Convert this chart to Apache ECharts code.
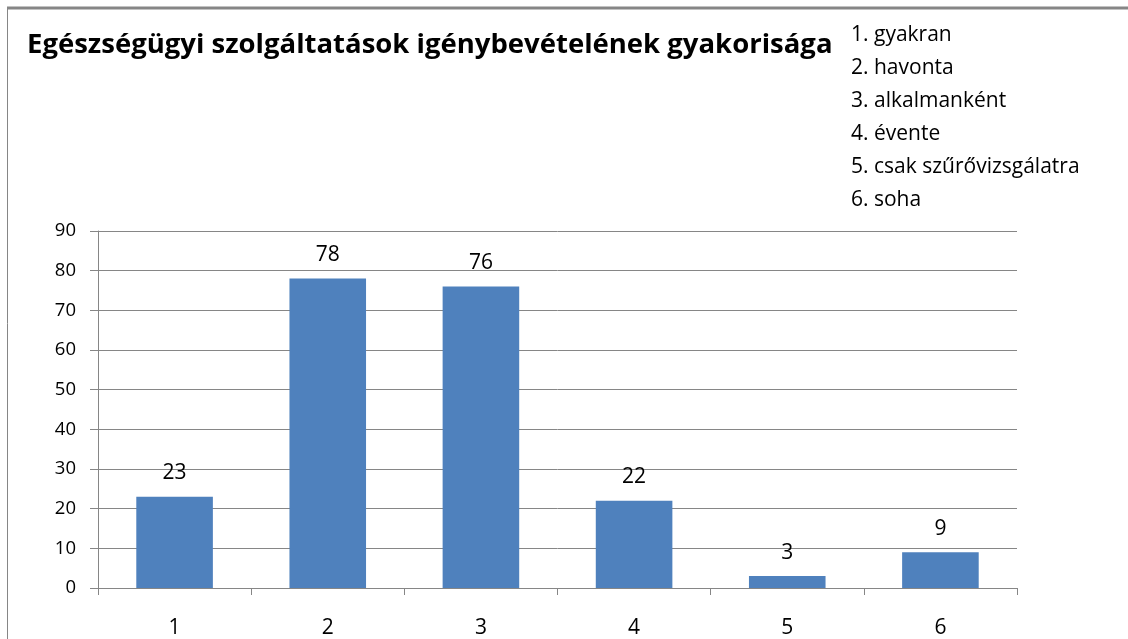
<!DOCTYPE html>
<html>
<head>
<meta charset="utf-8">
<script src="https://cdn.jsdelivr.net/npm/echarts@6/dist/echarts.min.js"></script>
<style>
html,body{margin:0;padding:0;background:#fff;}
#chart{width:1128px;height:639px;}
</style>
</head>
<body>
<div id="chart"></div>
<script>
const categories = ['1', '2', '3', '4', '5', '6'];
const values = [23, 78, 76, 22, 3, 9];
const categoryNames = ['gyakran', 'havonta', 'alkalmanként', 'évente', 'csak szűrővizsgálatra', 'soha'];
const yTicks = [0, 10, 20, 30, 40, 50, 60, 70, 80, 90];

const legendText = categories.map((c, i) => c + '. ' + categoryNames[i]).join('\n');
const font = '"Open Sans", Lato, sans-serif';

const chart = echarts.init(document.getElementById('chart'));
chart.setOption({
  animation: false,
  backgroundColor: '#fff',
  title: [
    {
      text: 'Egészségügyi szolgáltatások igénybevételének gyakorisága',
      left: 22, top: 26,
      textStyle: { fontFamily: font, fontWeight: 'bold', fontSize: 27.5, color: '#000' }
    },
    {
      text: legendText,
      left: 846, top: 14,
      textStyle: { fontFamily: font, fontWeight: 'normal', fontSize: 21, color: '#000', lineHeight: 33 }
    }
  ],
  graphic: [
    { type: 'line', shape: { x1: 7, y1: 8, x2: 1128, y2: 8 }, style: { stroke: '#868686', lineWidth: 3 } },
    { type: 'line', shape: { x1: 7.5, y1: 8, x2: 7.5, y2: 639 }, style: { stroke: '#868686', lineWidth: 1 } }
  ],
  grid: { left: 98, right: 111, top: 231, bottom: 49, containLabel: false },
  xAxis: {
    type: 'category',
    data: categories,
    axisLine: { lineStyle: { color: '#868686', width: 1 } },
    axisTick: { show: true, length: 7, alignWithLabel: false, lineStyle: { color: '#868686' } },
    axisLabel: { margin: 30, fontFamily: font, fontSize: 21, color: '#000' }
  },
  yAxis: {
    type: 'value',
    min: yTicks[0], max: yTicks[yTicks.length - 1], interval: 10,
    axisLine: { show: true, lineStyle: { color: '#868686', width: 1 } },
    axisTick: { show: true, length: 8, lineStyle: { color: '#868686' } },
    splitLine: { show: true, lineStyle: { color: '#868686', width: 1 } },
    axisLabel: { margin: 22, fontFamily: font, fontSize: 18.5, color: '#000' }
  },
  series: [{
    type: 'bar',
    data: values,
    barWidth: '50%',
    itemStyle: { color: '#4F81BD' },
    label: { show: true, position: 'top', distance: 13, fontFamily: font, fontSize: 21, color: '#000' }
  }]
});
</script>
</body>
</html>
